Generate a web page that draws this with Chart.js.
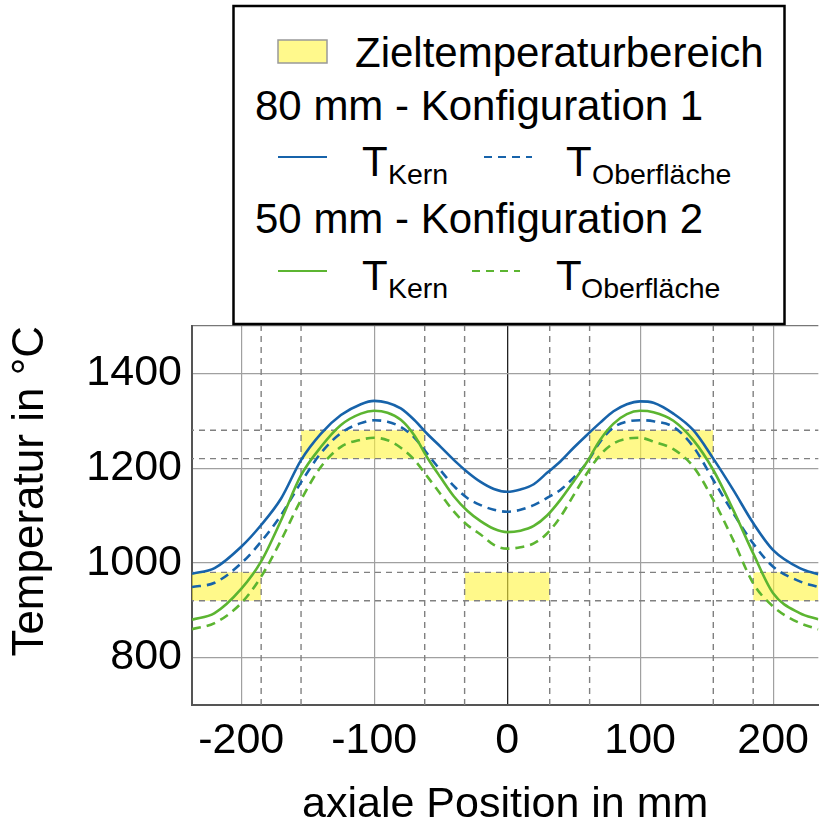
<!DOCTYPE html>
<html>
<head>
<meta charset="utf-8">
<script src="https://cdn.jsdelivr.net/npm/chart.js@4.4.1/dist/chart.umd.min.js"></script>
<style>
html,body{margin:0;padding:0;background:#fff;}
#wrap{position:relative;width:819px;height:822px;overflow:hidden;background:#fff;}
#c{position:absolute;left:0;top:0;}
#leg{position:absolute;left:0;top:0;}
</style>
</head>
<body>
<div id="wrap">
<canvas id="c" width="819" height="822"></canvas>
<svg id="leg" width="819" height="330" xmlns="http://www.w3.org/2000/svg" font-family="Liberation Sans, Arial, sans-serif" fill="#000">
  <rect x="233.5" y="6" width="551" height="318" fill="#fff" stroke="#000" stroke-width="2.5"/>
  <rect x="278" y="40" width="49" height="23" fill="#fff98c" stroke="#999" stroke-width="1.5"/>
  <text x="355" y="67" font-size="42">Zieltemperaturbereich</text>
  <text x="255" y="120" font-size="42">80 mm - Konfiguration 1</text>
  <line x1="278" y1="157" x2="327" y2="157" stroke="#1763aa" stroke-width="2"/>
  <text x="362" y="176" font-size="42">T</text>
  <text x="388" y="184" font-size="28.5">Kern</text>
  <line x1="484" y1="157" x2="532" y2="157" stroke="#1763aa" stroke-width="2" stroke-dasharray="8,6"/>
  <text x="566" y="176" font-size="42">T</text>
  <text x="592" y="184" font-size="28.5">Oberfläche</text>
  <text x="255" y="233" font-size="42">50 mm - Konfiguration 2</text>
  <line x1="278" y1="271" x2="327" y2="271" stroke="#5cb531" stroke-width="2"/>
  <text x="362" y="290" font-size="42">T</text>
  <text x="388" y="298" font-size="28.5">Kern</text>
  <line x1="472" y1="271" x2="520" y2="271" stroke="#5cb531" stroke-width="2" stroke-dasharray="8,6"/>
  <text x="556" y="290" font-size="42">T</text>
  <text x="581" y="298" font-size="28.5">Oberfläche</text>
</svg>
</div>
<script>
// ---- data ----
const positions = [-237,-220,-200,-185,-170,-155,-140,-125,-110,-100,-90,-80,-70,-60,-50,-40,-30,-20,-10,0,10,20,30,40,50,60,70,80,90,100,110,125,140,155,170,185,200,220,234];
const kern80 = [977,989,1034,1080,1136,1217,1273,1312,1335,1342,1338,1326,1302,1272,1245,1217,1192,1171,1156,1150,1155,1166,1190,1214,1243,1270,1296,1320,1335,1341,1338,1315,1280,1220,1154,1084,1027,989,976];
const surf80 = [949,958,999,1045,1101,1170,1232,1274,1295,1301,1298,1287,1265,1230,1195,1162,1137,1122,1112,1108,1112,1122,1137,1154,1180,1212,1256,1286,1298,1301,1299,1287,1245,1175,1105,1041,992,961,949];
const kern50 = [880,894,945,1003,1090,1185,1245,1291,1315,1321,1317,1302,1270,1222,1180,1140,1110,1088,1072,1065,1068,1078,1100,1133,1172,1213,1260,1294,1314,1321,1318,1300,1259,1196,1112,1020,936,894,881];
const surf50 = [860,873,915,971,1048,1133,1203,1245,1260,1264,1259,1243,1218,1182,1145,1108,1080,1060,1038,1030,1033,1041,1062,1097,1143,1189,1228,1252,1262,1264,1256,1240,1203,1133,1048,957,908,873,860];

const lowBand = [920, 980];
const highBand = [1220, 1280];
const lowZones = [[-240,-185],[-32,32],[185,240]];
const highZones = [[-155,-62],[62,155]];
const refX = [-185,-155,-62,-32,32,62,155,185];
const refY = [920,980,1220,1280];

const xTicks = [-200,-100,0,100,200];
const yTicks = [800,1000,1200,1400];
const xRange = [-237, 234];
const yRange = [700, 1500];

// ---- build ----
const BLUE = '#1763aa', GREEN = '#5cb531';
const pts = vals => positions.map((x,i)=>({x:x, y:vals[i]}));
const datasets = [];

function zone(r, band){
  datasets.push({
    data:[{x:r[0],y:band[1]},{x:r[1],y:band[1]}],
    fill:{value:band[0]},
    backgroundColor:'rgba(255,245,60,0.6)',
    borderWidth:0, pointRadius:0, order:30, clip:0
  });
}
lowZones.forEach(r=>zone(r, lowBand));
highZones.forEach(r=>zone(r, highBand));

refX.forEach(v=>datasets.push({
  data:[{x:v,y:yRange[0]},{x:v,y:yRange[1]}],
  borderColor:'#808080', borderWidth:1.4, borderDash:[6,5],
  pointRadius:0, fill:false, order:20
}));
refY.forEach(v=>datasets.push({
  data:[{x:-240,y:v},{x:240,y:v}],
  borderColor:'#808080', borderWidth:1.4, borderDash:[6,5],
  pointRadius:0, fill:false, order:20
}));

function curve(label, vals, color, dashed, ord){
  datasets.push({
    label:label, data:pts(vals), borderColor:color, borderWidth:2.6,
    borderDash: dashed ? [9,6] : [], pointRadius:0, fill:false,
    cubicInterpolationMode:'monotone', order:ord
  });
}
curve('80 mm T_Oberfläche', surf80, BLUE, true, 4);
curve('50 mm T_Oberfläche', surf50, GREEN, true, 3);
curve('80 mm T_Kern', kern80, BLUE, false, 2);
curve('50 mm T_Kern', kern50, GREEN, false, 1);

Chart.defaults.font.family = "'Liberation Sans', Arial, sans-serif";
Chart.defaults.color = '#000';

new Chart(document.getElementById('c'), {
  type:'line',
  data:{datasets:datasets},
  options:{
    responsive:false, animation:false, devicePixelRatio:1,
    layout:{padding:{top:326,left:0,right:0,bottom:0}},
    plugins:{legend:{display:false}, tooltip:{enabled:false}},
    scales:{
      x:{
        type:'linear', min:xRange[0], max:xRange[1],
        afterBuildTicks: s => { s.ticks = xTicks.map(v=>({value:v})); },
        afterFit: s => { s.height = 117; },
        ticks:{font:{size:43}, color:'#000', padding:10, maxRotation:0, autoSkip:false,
               callback: v => String(v)},
        grid:{drawTicks:false,
              color: c => (c.tick && c.tick.value===0) ? '#222' : '#a0a0a0',
              lineWidth: c => (c.tick && c.tick.value===0) ? 1.3 : 1.2},
        border:{color:'#555', width:2},
        title:{display:true, text:'axiale Position in mm', color:'#000',
               font:{size:43, lineHeight:0.8}, padding:{top:0,bottom:0}}
      },
      y:{
        type:'linear', min:yRange[0], max:yRange[1],
        afterBuildTicks: s => { s.ticks = yTicks.concat([yRange[1]]).map(v=>({value:v})); },
        afterFit: s => { s.width = 192; },
        ticks:{font:{size:43}, color:'#000', padding:10,
               callback: v => yTicks.includes(v) ? String(v) : ''},
        grid:{drawTicks:false,
              color: c => (c.tick && c.tick.value===yRange[1]) ? '#777' : '#a0a0a0',
              lineWidth: 1.2},
        border:{color:'#555', width:2},
        title:{display:true, text:'Temperatur in °C', color:'#000', align:'end',
               font:{size:44}}
      }
    }
  }
});
</script>
</body>
</html>
